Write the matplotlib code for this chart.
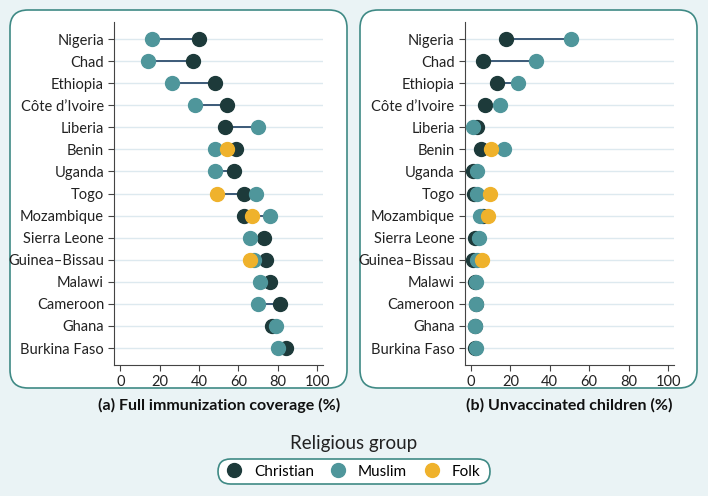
import matplotlib.pyplot as plt
from matplotlib.lines import Line2D
from matplotlib.patches import FancyBboxPatch

plt.rcParams["font.family"] = ["Lato", "DejaVu Sans"]

countries = ["Nigeria", "Chad", "Ethiopia", "Côte d’Ivoire", "Liberia", "Benin",
             "Uganda", "Togo", "Mozambique", "Sierra Leone", "Guinea–Bissau",
             "Malawi", "Cameroon", "Ghana", "Burkina Faso"]

# (a) full immunization coverage (%)
full_christian = [40, 37, 48, 54, 53, 59, 58, 63, 63, 73, 74, 76, 81, 77, 84]
full_muslim = [16, 14, 26, 38, 70, 48, 48, 69, 76, 66, 68, 71, 70, 79, 80]
full_folk = [None, None, None, None, None, 54, None, 49, 67, None, 66, None, None, None, None]

# (b) unvaccinated children (%)
unvac_christian = [18, 6, 13, 7, 2.9, 5, 1.2, 1.5, 6, 1.9, 1.2, 2.0, 2.5, 2.0, 2.0]
unvac_muslim = [51, 33, 24, 14.5, 1.2, 17, 3.0, 3.3, 4.8, 4.3, 3.0, 2.5, 2.7, 2.3, 2.5]
unvac_folk = [None, None, None, None, None, 10, None, 9.6, 8.8, None, 5.4, None, None, None, None]

C_CHRISTIAN = "#1d3a3a"
C_MUSLIM = "#4f969b"
C_FOLK = "#efb22c"
C_LINK = "#3b5a78"
C_BORDER = "#3f8a85"
BG = "#eaf3f5"


def draw_panel(ax, christian, muslim, folk, xlabel):
    ys = list(range(len(countries)))
    for y, c, m, f in zip(ys, christian, muslim, folk):
        vals = [v for v in (c, m, f) if v is not None]
        ax.plot([min(vals), max(vals)], [y, y], color=C_LINK, lw=1.4, zorder=2)
    ax.plot(christian, ys, "o", color=C_CHRISTIAN, ms=10, zorder=3)
    ax.plot(muslim, ys, "o", color=C_MUSLIM, ms=10, zorder=4)
    fy = [y for y, f in zip(ys, folk) if f is not None]
    fx = [f for f in folk if f is not None]
    ax.plot(fx, fy, "o", color=C_FOLK, ms=10, zorder=5)

    ax.set_yticks(ys)
    ax.set_yticklabels(countries)
    ax.set_ylim(14.77, -0.77)
    ax.set_xlim(-3, 103)
    ax.set_xticks([0, 20, 40, 60, 80, 100])
    for y in ys:
        ax.axhline(y, color="#dde9ef", lw=1, zorder=1)
    ax.spines["top"].set_visible(False)
    ax.spines["right"].set_visible(False)
    ax.spines["left"].set_color("#444444")
    ax.spines["bottom"].set_color("#444444")
    ax.tick_params(colors="#444444", labelsize=10.5, labelcolor="#222222", length=4)
    ax.set_facecolor("white")
    ax.set_xlabel(xlabel, fontsize=11.5, fontweight="bold", color="#111111", labelpad=6)


fig = plt.figure(figsize=(7.08, 4.96), dpi=100)
fig.patch.set_facecolor(BG)

for x0 in (0.10, 3.60):
    box = FancyBboxPatch((x0, 1.08), 3.37, 3.78,
                         boxstyle="round,pad=0,rounding_size=0.18",
                         transform=fig.dpi_scale_trans, facecolor="white",
                         edgecolor=C_BORDER, lw=1.2, zorder=-5)
    fig.patches.append(box)

ax1 = fig.add_axes([0.1617, 0.2641, 0.2945, 0.6915])
ax2 = fig.add_axes([0.6568, 0.2641, 0.2952, 0.6915])
draw_panel(ax1, full_christian, full_muslim, full_folk,
           "(a) Full immunization coverage (%)")
draw_panel(ax2, unvac_christian, unvac_muslim, unvac_folk,
           "(b) Unvaccinated children (%)")

# legend
pill = FancyBboxPatch((2.18, 0.12), 2.72, 0.25,
                      boxstyle="round,pad=0,rounding_size=0.125",
                      transform=fig.dpi_scale_trans, facecolor="white",
                      edgecolor=C_BORDER, lw=1.2, zorder=-5)
fig.patches.append(pill)
fig.text(0.499, 0.105, "Religious group", ha="center", va="center",
         fontsize=13.5, color="#222222")
handles = [Line2D([], [], marker="o", ls="none", color=c, ms=10, label=l)
           for c, l in [(C_CHRISTIAN, "Christian"), (C_MUSLIM, "Muslim"), (C_FOLK, "Folk")]]
fig.legend(handles=handles, ncol=3, frameon=False, loc="center",
           bbox_to_anchor=(0.499, 0.049), fontsize=11, handletextpad=0.8,
           columnspacing=1.1, handlelength=1.0)

plt.savefig("out.png", dpi=100, facecolor=BG)
